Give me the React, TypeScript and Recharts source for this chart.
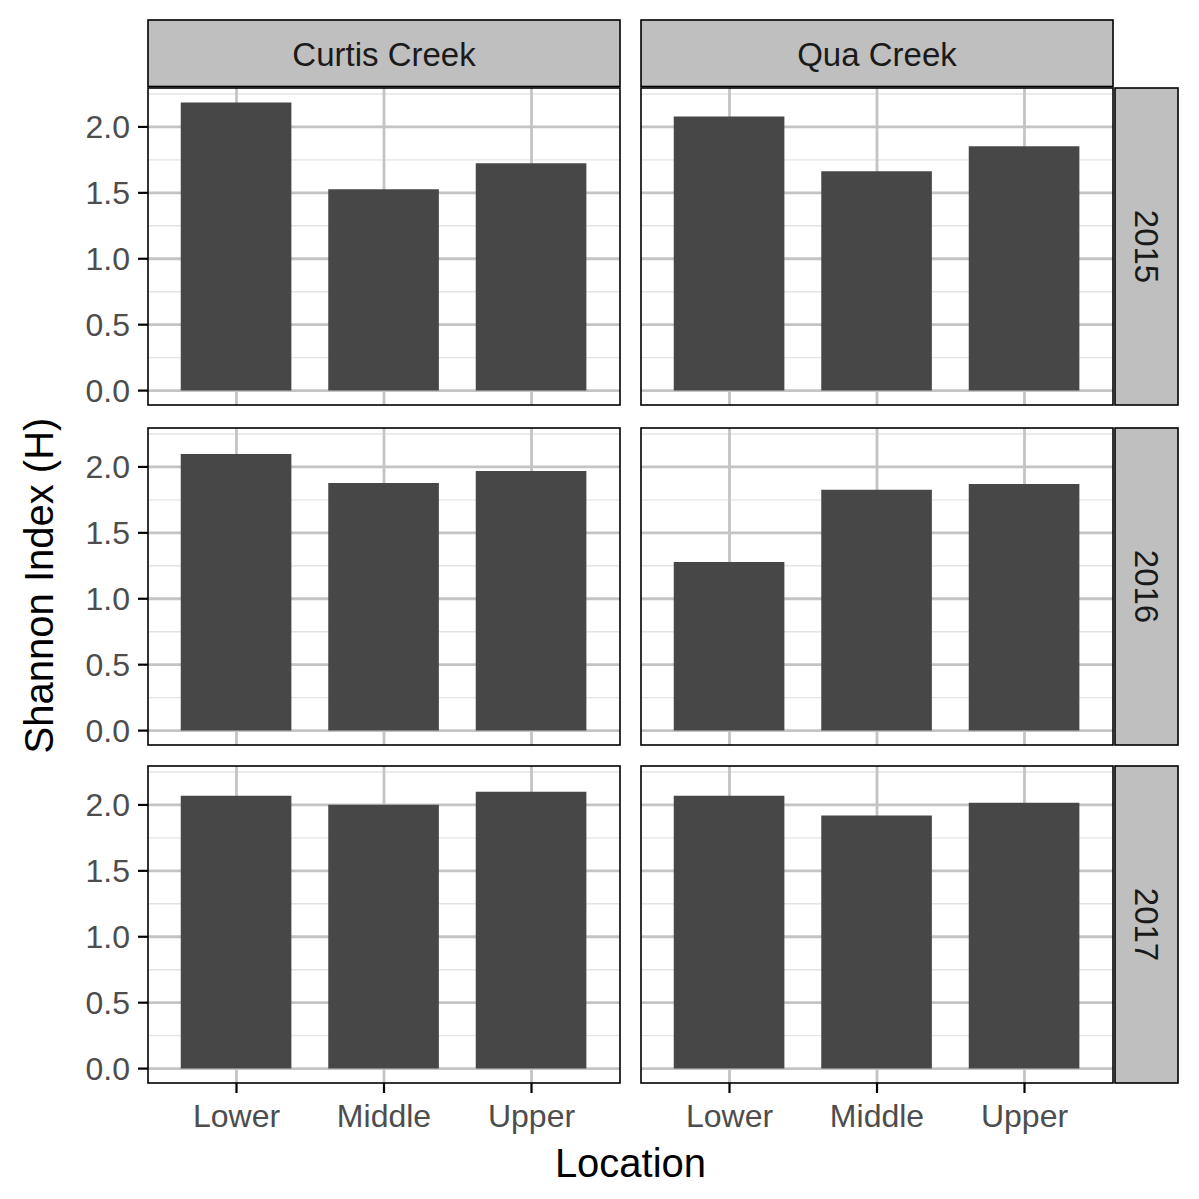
import React from 'react';
import { BarChart, Bar, XAxis, YAxis, CartesianGrid } from 'recharts';

const locations = ['Lower', 'Middle', 'Upper'];
const creeks = ['Curtis Creek', 'Qua Creek'];
const years = ['2015', '2016', '2017'];

const curtis2015 = [2.186, 1.528, 1.725];
const qua2015 = [2.08, 1.664, 1.854];
const curtis2016 = [2.098, 1.879, 1.97];
const qua2016 = [1.278, 1.826, 1.871];
const curtis2017 = [2.07, 2.002, 2.1];
const qua2017 = [2.07, 1.92, 2.017];

const yTicks = [0, 0.5, 1, 1.5, 2];
const yMinor = [0.25, 0.75, 1.25, 1.75, 2.25];
const xPositions = [1, 2, 3];

const panelValues = [
  [curtis2015, qua2015],
  [curtis2016, qua2016],
  [curtis2017, qua2017],
];

const maxVal = Math.max(...panelValues.flat(2));
const yDomain: [number, number] = [-0.05 * maxVal, 1.05 * maxVal];
const xDomain: [number, number] = [0.4, 3.6];

const FONT = '"Liberation Sans", Arial, Helvetica, sans-serif';
const COL_X = [148, 641];
const PANEL_W = 472;
const ROW_Y = [88, 428, 766];
const PANEL_H = 317;
const Y_AXIS_W = 80;
const X_AXIS_H = 70;
const EXTRA_B = 14;
const BAR_W = (0.75 * PANEL_W) / (xDomain[1] - xDomain[0]);
const STRIP_TOP = 20;
const STRIP_RIGHT_X = 1115;
const STRIP_RIGHT_W = 63;

function Panel({ r, c }: { r: number; c: number }) {
  const vals = panelValues[r][c];
  const data = locations.map((loc, i) => ({ pos: xPositions[i], location: loc, value: vals[i] }));
  const showY = c === 0;
  const showX = r === 2;
  const width = PANEL_W + (showY ? Y_AXIS_W : 0);
  const bottomMargin = showX ? 0 : EXTRA_B;
  const height = PANEL_H + (showX ? X_AXIS_H : 0) + bottomMargin;
  const left = COL_X[c] - (showY ? Y_AXIS_W : 0);
  const top = ROW_Y[r];
  return (
    <div style={{ position: 'absolute', left, top, width, height }}>
      <BarChart width={width} height={height} data={data} margin={{ top: 0, right: 0, bottom: bottomMargin, left: 0 }}>
        <CartesianGrid horizontalValues={yMinor} vertical={false} stroke="#E4E4E4" strokeWidth={1.4} />
        <CartesianGrid horizontalValues={yTicks} verticalValues={xPositions} stroke="#C4C4C4" strokeWidth={2.8} />
        <XAxis
          type="number"
          dataKey="pos"
          domain={xDomain}
          ticks={xPositions}
          allowDataOverflow
          hide={!showX}
          height={X_AXIS_H}
          interval={0}
          tickFormatter={(v: number) => locations[v - 1]}
          tickSize={10}
          tickMargin={11}
          axisLine={false}
          tickLine={{ stroke: '#000', strokeWidth: 2.2 }}
          tick={{ fill: '#4D4D4D', fontSize: 32, fontFamily: FONT }}
        />
        <YAxis
          type="number"
          domain={yDomain}
          ticks={yTicks}
          allowDataOverflow
          hide={!showY}
          width={Y_AXIS_W}
          interval={0}
          tickFormatter={(v: number) => v.toFixed(1)}
          tickSize={10}
          tickMargin={8}
          axisLine={false}
          tickLine={{ stroke: '#000', strokeWidth: 2.2 }}
          tick={{ fill: '#4D4D4D', fontSize: 32, fontFamily: FONT }}
        />
        <Bar dataKey="value" fill="#474747" barSize={BAR_W} isAnimationActive={false} />
      </BarChart>
    </div>
  );
}

export default function App() {
  const panels = [];
  for (let r = 0; r < 3; r++) for (let c = 0; c < 2; c++) panels.push(<Panel key={`${r}-${c}`} r={r} c={c} />);
  const plotLeft = COL_X[0];
  const plotRight = COL_X[1] + PANEL_W;
  const plotTop = ROW_Y[0];
  const plotBottom = ROW_Y[2] + PANEL_H;
  return (
    <div style={{ position: 'absolute', left: 0, top: 0, width: 1199, height: 1199, background: '#fff', fontFamily: FONT }}>
      {panels}
      <svg width={1199} height={1199} style={{ position: 'absolute', left: 0, top: 0, pointerEvents: 'none' }}>
        {ROW_Y.map((y, r) =>
          COL_X.map((x, c) => (
            <rect key={`b${r}${c}`} x={x} y={y} width={PANEL_W} height={PANEL_H} fill="none" stroke="#000" strokeWidth={1.6} />
          ))
        )}
        {COL_X.map((x, c) => (
          <g key={`s${c}`}>
            <rect x={x} y={STRIP_TOP} width={PANEL_W} height={ROW_Y[0] - STRIP_TOP - 1.5} fill="#BFBFBF" stroke="#000" strokeWidth={1.6} />
            <text x={x + PANEL_W / 2} y={(STRIP_TOP + ROW_Y[0]) / 2 + 11.5} textAnchor="middle" fontSize={33} fill="#1A1A1A" fontFamily={FONT}>
              {creeks[c]}
            </text>
          </g>
        ))}
        {ROW_Y.map((y, r) => {
          const cx = STRIP_RIGHT_X + STRIP_RIGHT_W / 2;
          const cy = y + PANEL_H / 2;
          return (
            <g key={`rs${r}`}>
              <rect x={STRIP_RIGHT_X} y={y} width={STRIP_RIGHT_W} height={PANEL_H} fill="#BFBFBF" stroke="#000" strokeWidth={1.6} />
              <text x={cx} y={cy} transform={`rotate(90 ${cx} ${cy})`} dy={11.5} textAnchor="middle" fontSize={33} fill="#1A1A1A" fontFamily={FONT}>
                {years[r]}
              </text>
            </g>
          );
        })}
        <text x={53} y={(plotTop + plotBottom) / 2} transform={`rotate(-90 53 ${(plotTop + plotBottom) / 2})`} textAnchor="middle" fontSize={40} fill="#000" fontFamily={FONT}>
          Shannon Index (H)
        </text>
        <text x={(plotLeft + plotRight) / 2} y={1177} textAnchor="middle" fontSize={40} fill="#000" fontFamily={FONT}>
          Location
        </text>
      </svg>
    </div>
  );
}
